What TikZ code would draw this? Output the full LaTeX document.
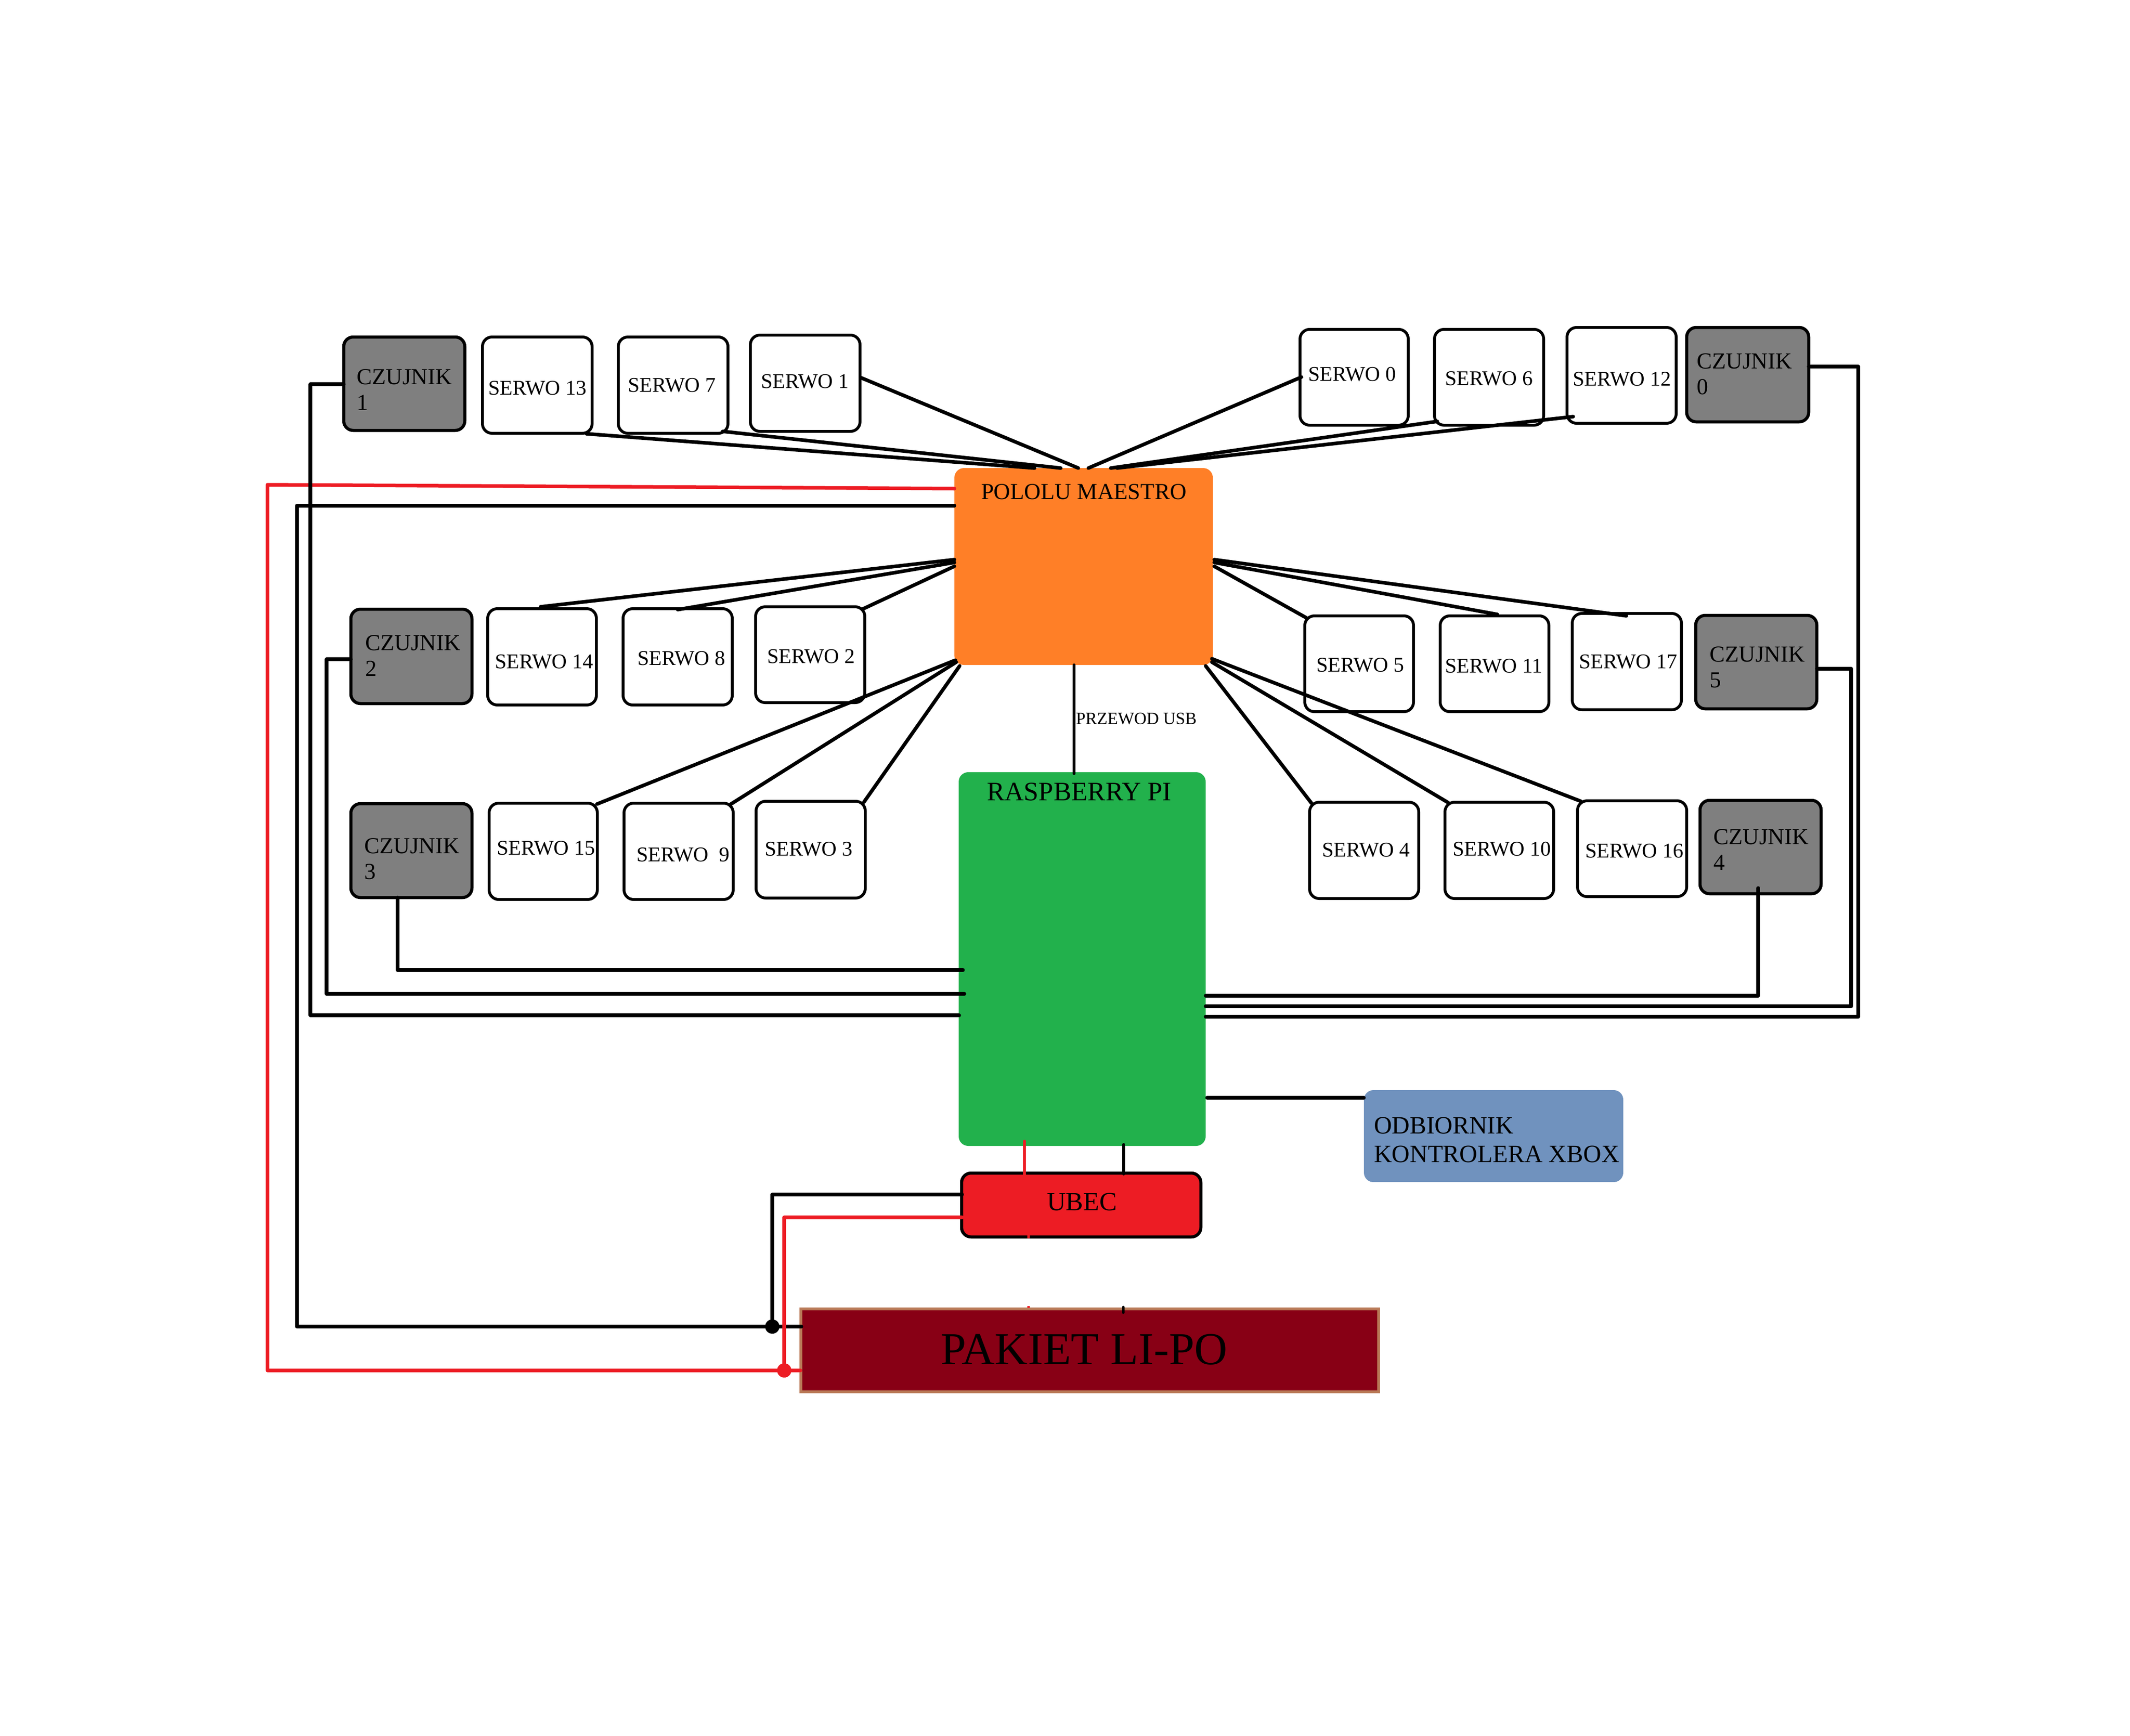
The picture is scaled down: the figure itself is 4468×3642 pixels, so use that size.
\documentclass[tikz,border=0pt]{standalone}
\usepackage{fontspec}
\setmainfont{Liberation Serif}
\definecolor{orangeb}{HTML}{FF7F27}
\definecolor{greenb}{HTML}{22B14C}
\definecolor{redb}{HTML}{ED1C24}
\definecolor{grayb}{HTML}{7F7F7F}
\definecolor{maroonb}{HTML}{880015}
\definecolor{brownb}{HTML}{B97A57}
\definecolor{blueb}{HTML}{7092BE}
\tikzset{
  hw/.style={rectangle,inner sep=0pt,outer sep=0pt,rounded corners=20pt},
  servobox/.style={hw,draw=black,line width=6pt,fill=white},
  sensorbox/.style={hw,draw=black,line width=6.5pt,fill=grayb},
  pololubox/.style={hw,fill=orangeb},
  rpibox/.style={hw,fill=greenb},
  ubecbox/.style={hw,draw=black,line width=6.5pt,fill=redb},
  rxbox/.style={hw,fill=blueb},
  lipobox/.style={rectangle,inner sep=0pt,outer sep=0pt,draw=brownb,line width=5.5pt,fill=maroonb},
  wire/.style={draw=black,line width=7.5pt,line cap=round,line join=round},
  redwire/.style={draw=redb,line width=7.5pt,line cap=round,line join=round},
  blackdot/.style={circle,fill=black,inner sep=0pt,minimum size=30pt},
  reddot/.style={circle,fill=redb,inner sep=0pt,minimum size=30pt},
  lab/.style={anchor=base west,inner sep=0pt,outer sep=0pt,text=black},
  servotxt/.style={lab,font=\fontsize{44}{44}\selectfont},
  sensortxt/.style={lab,align=left,font=\fontsize{48}{54.5}\selectfont},
}
\def\growpx{0}
\newcommand{\hwbox}[6]{%
  \pgfmathsetmacro\bw{#5-#3+\growpx}\pgfmathsetmacro\bh{#6-#4+\growpx}%
  \pgfmathsetmacro\bx{(#3+#5)/2}\pgfmathsetmacro\by{(#4+#6)/2}%
  \node[#2,minimum width=\bw pt,minimum height=\bh pt] (#1) at (\bx,\by) {};}
\begin{document}
\begin{tikzpicture}[x=1pt,y=-1pt]
\fill[white] (0,0) rectangle (4468,3642);
\useasboundingbox (0,0) rectangle (4468,3642);
% central blocks
\hwbox{p}{pololubox}{2002}{982}{2544}{1395}
\hwbox{r}{rpibox}{2011}{1620}{2529}{2404}
\hwbox{x}{rxbox}{2861}{2287}{3405}{2480}
\hwbox{b}{lipobox}{1680}{2746}{2892}{2920}
\def\growpx{4}
\hwbox{u}{ubecbox}{2019}{2463}{2517}{2593}
% sensors
\hwbox{c1}{sensorbox}{723}{709}{973}{901}
\hwbox{c2}{sensorbox}{738}{1280}{988}{1474}
\hwbox{c3}{sensorbox}{738}{1688}{988}{1881}
\hwbox{c0}{sensorbox}{3540}{689}{3792}{883}
\hwbox{c5}{sensorbox}{3559}{1293}{3809}{1485}
\hwbox{c4}{sensorbox}{3568}{1681}{3818}{1873}
% servos
\hwbox{s13}{servobox}{1014}{709}{1240}{907}
\hwbox{s7}{servobox}{1299}{709}{1525}{907}
\hwbox{s1}{servobox}{1576}{705}{1802}{903}
\hwbox{s14}{servobox}{1025}{1279}{1249}{1477}
\hwbox{s8}{servobox}{1309}{1279}{1534}{1477}
\hwbox{s2}{servobox}{1587}{1275}{1812}{1472}
\hwbox{s15}{servobox}{1028}{1687}{1251}{1885}
\hwbox{s9}{servobox}{1311}{1687}{1536}{1885}
\hwbox{s3}{servobox}{1588}{1683}{1813}{1882}
\hwbox{s0}{servobox}{2729}{693}{2952}{890}
\hwbox{s6}{servobox}{3011}{693}{3236}{890}
\hwbox{s12}{servobox}{3289}{689}{3514}{886}
\hwbox{s5}{servobox}{2739}{1294}{2963}{1491}
\hwbox{s11}{servobox}{3023}{1294}{3247}{1491}
\hwbox{s17}{servobox}{3300}{1289}{3525}{1487}
\hwbox{s4}{servobox}{2749}{1685}{2974}{1883}
\hwbox{s10}{servobox}{3033}{1685}{3257}{1883}
\hwbox{s16}{servobox}{3311}{1682}{3536}{1879}
% junction dots
\node[blackdot] (d1) at (1620,2783) {};
\node[reddot] (d2) at (1645,2875) {};
\coordinate (rc) at (561,1017);
% labels
\node[lab,font=\fontsize{48}{48}\selectfont] (tp) at (2058,1047) {POLOLU MAESTRO};
\node[lab,font=\fontsize{56}{56}\selectfont] (tr) at (2070,1679) {RASPBERRY PI};
\node[lab,font=\fontsize{55}{55}\selectfont] (tu) at (2196,2539) {UBEC};
\node[lab,font=\fontsize{36}{36}\selectfont] (tusb) at (2257,1519) {PRZEWOD USB};
\node[lab,align=left,font=\fontsize{52.2}{60}\selectfont] (tx) at (2882,2438) {ODBIORNIK\\KONTROLERA XBOX};
\node[lab,font=\fontsize{96}{96}\selectfont] (tb) at (1973,2862) {PAKIET LI-PO};
\node[sensortxt] (tc1) at (748,860.5) {CZUJNIK\\1};
\node[sensortxt] (tc2) at (766,1418.5) {CZUJNIK\\2};
\node[sensortxt] (tc3) at (764,1844.5) {CZUJNIK\\3};
\node[sensortxt] (tc0) at (3559,827.5) {CZUJNIK\\0};
\node[sensortxt] (tc5) at (3586,1442.5) {CZUJNIK\\5};
\node[sensortxt] (tc4) at (3594,1825.5) {CZUJNIK\\4};
\node[servotxt] (ts13) at (1024,828) {SERWO 13};
\node[servotxt] (ts7) at (1317,822) {SERWO 7};
\node[servotxt] (ts1) at (1596,814) {SERWO 1};
\node[servotxt] (ts14) at (1038,1402) {SERWO 14};
\node[servotxt] (ts8) at (1337,1395) {SERWO 8};
\node[servotxt] (ts2) at (1609,1391) {SERWO 2};
\node[servotxt] (ts15) at (1042,1793) {SERWO 15};
\node[servotxt] (ts9) at (1335,1807) {SERWO\ \ 9};
\node[servotxt] (ts3) at (1604,1795) {SERWO 3};
\node[servotxt] (ts0) at (2744,799) {SERWO 0};
\node[servotxt] (ts6) at (3031,808) {SERWO 6};
\node[servotxt] (ts12) at (3299,809) {SERWO 12};
\node[servotxt] (ts5) at (2761,1409) {SERWO 5};
\node[servotxt] (ts11) at (3031,1411) {SERWO 11};
\node[servotxt] (ts17) at (3312,1402) {SERWO 17};
\node[servotxt] (ts4) at (2773,1797) {SERWO 4};
\node[servotxt] (ts10) at (3047,1795) {SERWO 10};
\node[servotxt] (ts16) at (3325,1799) {SERWO 16};
% fan: upper row, left
\draw[wire] ([shift={(1,89)}]s1.north east) -- ([shift={(260,0)}]p.north west);
\draw[wire] ([shift={(-11,-4)}]s7.south east) -- ([shift={(223,0)}]p.north west);
\draw[wire] ([shift={(-12,1)}]s13.south east) -- ([shift={(168,0)}]p.north west);
% fan: upper row, right
\draw[wire] ([shift={(3,100)}]s0.north west) -- ([shift={(281,0)}]p.north west);
\draw[wire] ([shift={(6,-8)}]s6.south west) -- ([shift={(328,0)}]p.north west);
\draw[wire] ([shift={(13,-14)}]s12.south west) -- ([shift={(341,0)}]p.north west);
% fan: middle row
\draw[wire] ([shift={(-3,-4)}]s14.north) -- ([shift={(0,192)}]p.north west);
\draw[wire] ([shift={(0,2)}]s8.north) -- ([shift={(0,198)}]p.north west);
\draw[wire] ([shift={(-5,5)}]s2.north east) -- ([shift={(0,206)}]p.north west);
\draw[wire] ([shift={(3,4)}]s5.north west) -- ([shift={(3,206)}]p.north east);
\draw[wire] ([shift={(6,-3)}]s11.north) -- ([shift={(3,198)}]p.north east);
\draw[wire] ([shift={(-1,5)}]s17.north) -- ([shift={(3,192)}]p.north east);
% fan: lower row
\draw[wire] ([shift={(-1,2)}]s15.north east) -- ([shift={(2,-10)}]p.south west);
\draw[wire] ([shift={(-5,2)}]s9.north east) -- ([shift={(4,-6)}]p.south west);
\draw[wire] ([shift={(-3,2)}]s3.north east) -- ([shift={(11,2)}]p.south west);
\draw[wire] ([shift={(4,2)}]s4.north west) -- ([shift={(-15,2)}]p.south east);
\draw[wire] ([shift={(7,1)}]s10.north west) -- ([shift={(-2,-6)}]p.south east);
\draw[wire] ([shift={(7,1)}]s16.north west) -- ([shift={(-2,-13)}]p.south east);
% USB
\draw[wire,line width=6pt] ([shift={(251,0)}]p.south west) -- ([shift={(242,3)}]r.north west);
% power from battery
\draw[wire] ([shift={(0,79)}]p.north west) -- ++(-1379,0) |- ([shift={(1,37)}]b.north west);
\draw[redwire] ([shift={(0,43)}]p.north west) -- (rc) |- ([shift={(-1,129)}]b.north west);
\draw[wire] ([shift={(1,45)}]u.north west) -| (d1);
\draw[redwire] ([shift={(1,93)}]u.north west) -| (d2);
% sensors to Raspberry Pi
\draw[wire] ([shift={(0,99)}]c1.north west) -- ++(-70,0) |- ([shift={(1,510)}]r.north west);
\draw[wire] ([shift={(0,105)}]c2.north west) -- ++(-51,0) |- ([shift={(12,465)}]r.north west);
\draw[wire] ([shift={(98,0)}]c3.south west) |- ([shift={(9,415)}]r.north west);
\draw[wire] ([shift={(122,-12)}]c4.south west) |- ([shift={(0,469)}]r.north east);
\draw[wire] ([shift={(0,112)}]c5.north east) -- ++(72,0) |- ([shift={(0,491)}]r.north east);
\draw[wire] ([shift={(0,82)}]c0.north east) -- ++(104,0) |- ([shift={(0,513)}]r.north east);
% receiver and UBEC
\draw[wire] ([shift={(3,683)}]r.north east) -- ([shift={(0,16)}]x.north west);
\draw[redwire,line width=6pt] ([shift={(138,-10)}]r.south west) -- ([shift={(132,4)}]u.north west);
\draw[wire,line width=6pt] ([shift={(346,-3)}]r.south west) -- ([shift={(340,2)}]u.north west);
% leftover stubs
\draw[redwire,line width=5pt,line cap=butt] ([shift={(140,-5)}]u.south west) -- ++(0,8);
\draw[redwire,line width=5pt,line cap=butt] ([shift={(477,-6)}]b.north west) -- ++(0,4);
\draw[wire,line width=5pt] ([shift={(676,-4)}]b.north west) -- ++(0,12);
\end{tikzpicture}
\end{document}
